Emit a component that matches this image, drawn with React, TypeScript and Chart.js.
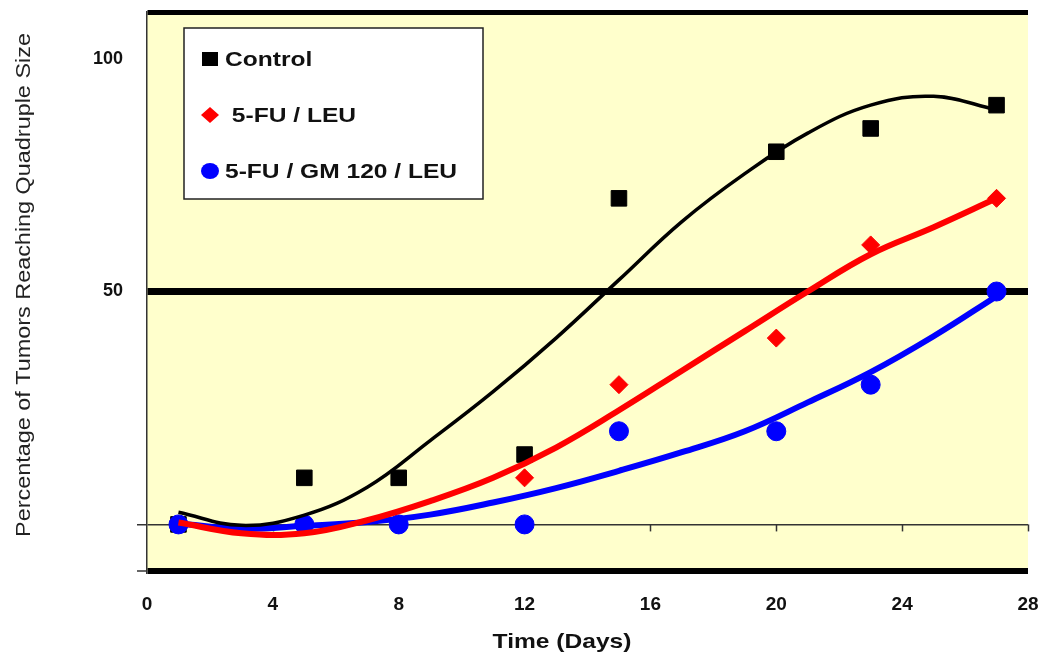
import React, { useEffect, useRef } from 'react';
import { Chart, registerables } from 'chart.js';

Chart.register(...registerables);

// ---- data ----
const days = [1, 5, 8, 12, 15, 20, 23, 27];
const controlValues = [0, 10, 10, 15, 70, 80, 85, 90];
const fuLeuValues = [0, 0, 0, 10, 30, 40, 60, 70];
const fuGmLeuValues = [0, 0, 0, 0, 20, 20, 30, 50];

// trend-line curves as drawn in the reference
const trendDays = [1, 3, 5, 7, 9, 11, 13, 15, 17, 19, 21, 23, 25, 27];
const controlTrend = [2.6, -0.2, 2, 8, 18, 28.5, 40, 52.5, 65, 75.3, 84, 90, 91.9, 89];
const fuLeuTrend = [0.4, -1.9, -1.9, 0.9, 5, 10, 16.5, 24.5, 33, 41.5, 50, 58, 63.8, 70];
const fuGmLeuTrend = [0.2, -0.9, -0.3, 0.5, 2.1, 4.7, 7.8, 11.5, 15.5, 20, 26.2, 32.7, 40.4, 49];

const seriesLabels = ['Control', ' 5-FU / LEU', '5-FU / GM 120 / LEU'];
const yTickValues = [-10, 0, 50, 100, 110];
const yLabelValues = [50, 100];
const xTitle = 'Time (Days)';
const yTitle = 'Percentage of Tumors Reaching Quadruple Size';

const FONT = '"Liberation Sans", Arial, Helvetica, sans-serif';
const STRETCH = 1.17;

const toXY = (xs: number[], ys: number[]) => xs.map((x, i) => ({ x, y: ys[i] }));

const backgroundPlugin = {
  id: 'plotBg',
  beforeDraw(chart: any) {
    const { ctx, chartArea } = chart;
    ctx.save();
    ctx.fillStyle = '#FFFFCC';
    ctx.fillRect(chartArea.left, chartArea.top, chartArea.right - chartArea.left, chartArea.bottom - chartArea.top);
    ctx.restore();
  },
};

const zeroTicksPlugin = {
  id: 'zeroTicks',
  beforeDatasetsDraw(chart: any) {
    const { ctx } = chart;
    const xs = chart.scales.x;
    const ys = chart.scales.y;
    const y0 = ys.getPixelForValue(0);
    ctx.save();
    ctx.strokeStyle = '#333';
    ctx.lineWidth = 1.5;
    xs.ticks.forEach((t: any) => {
      if (t.value <= xs.min) return;
      const px = Math.round(xs.getPixelForValue(t.value)) + 0.5;
      ctx.beginPath();
      ctx.moveTo(px, y0);
      ctx.lineTo(px, y0 + 7);
      ctx.stroke();
    });
    ctx.restore();
  },
};

const legendPlugin = {
  id: 'boxLegend',
  afterDatasetsDraw(chart: any) {
    const { ctx, chartArea } = chart;
    const bx = chartArea.left + 37;
    const by = chartArea.top + 16;
    const bw = 299;
    const bh = 171;
    ctx.save();
    ctx.fillStyle = '#ffffff';
    ctx.fillRect(bx, by, bw, bh);
    ctx.strokeStyle = '#222';
    ctx.lineWidth = 1.5;
    ctx.strokeRect(bx, by, bw, bh);
    const items = chart.data.datasets.filter((d: any) => d.label);
    items.forEach((ds: any, i: number) => {
      const cy = by + 31 + i * 56;
      const mx = bx + 26;
      ctx.fillStyle = ds.backgroundColor;
      if (ds.pointStyle === 'rect') {
        ctx.fillRect(mx - 8, cy - 7, 16, 14);
      } else if (ds.pointStyle === 'rectRot') {
        ctx.beginPath();
        ctx.moveTo(mx, cy - 8);
        ctx.lineTo(mx + 9, cy);
        ctx.lineTo(mx, cy + 8);
        ctx.lineTo(mx - 9, cy);
        ctx.closePath();
        ctx.fill();
      } else {
        ctx.beginPath();
        ctx.ellipse(mx, cy, 9, 8, 0, 0, Math.PI * 2);
        ctx.fill();
      }
      ctx.save();
      ctx.translate(bx + 41, cy);
      ctx.scale(STRETCH, 1);
      ctx.font = `bold 21px ${FONT}`;
      ctx.textBaseline = 'middle';
      ctx.textAlign = 'left';
      ctx.fillStyle = '#111';
      ctx.fillText(ds.label, 0, 1);
      ctx.restore();
    });
    ctx.restore();
  },
};

const titlesPlugin = {
  id: 'axisTitles',
  afterDraw(chart: any) {
    const { ctx, chartArea } = chart;
    ctx.save();
    ctx.fillStyle = '#111';
    ctx.textAlign = 'center';
    ctx.textBaseline = 'middle';
    // x title
    ctx.save();
    ctx.translate(chartArea.left + 415, chart.height - 17);
    ctx.scale(STRETCH, 1);
    ctx.font = `bold 21px ${FONT}`;
    ctx.fillText(xTitle, 0, 0);
    ctx.restore();
    // y title
    ctx.save();
    ctx.translate(24, chartArea.top + 273);
    ctx.rotate(-Math.PI / 2);
    ctx.scale(STRETCH, 1);
    ctx.font = `20px ${FONT}`;
    ctx.fillStyle = '#222';
    ctx.fillText(yTitle, 0, 0);
    ctx.restore();
    ctx.restore();
  },
};

const trendStyle = {
  showLine: true,
  pointRadius: 0,
  tension: 0.4,
  fill: false,
};

export default function App() {
  const canvasRef = useRef<HTMLCanvasElement | null>(null);

  useEffect(() => {
    document.body.style.margin = '0';
    const canvas = canvasRef.current;
    if (!canvas) return;

    const chart = new Chart(canvas, {
      type: 'scatter',
      data: {
        datasets: [
          { ...trendStyle, data: toXY(trendDays, controlTrend), borderColor: '#000000', borderWidth: 3.5, order: 0 },
          { ...trendStyle, data: toXY(trendDays, fuLeuTrend), borderColor: '#FF0000', borderWidth: 6, order: 1 },
          { ...trendStyle, data: toXY(trendDays, fuGmLeuTrend), borderColor: '#0000FF', borderWidth: 6, order: 2 },
          {
            label: seriesLabels[0],
            data: toXY(days, controlValues),
            pointStyle: 'rect',
            pointRadius: 11,
            backgroundColor: '#000000',
            borderColor: '#000000',
            borderWidth: 1,
            order: 5,
          },
          {
            label: seriesLabels[1],
            data: toXY(days, fuLeuValues),
            pointStyle: 'rectRot',
            pointRadius: 9,
            backgroundColor: '#FF0000',
            borderColor: '#FF0000',
            borderWidth: 1,
            order: 4,
          },
          {
            label: seriesLabels[2],
            data: toXY(days, fuGmLeuValues),
            pointStyle: 'circle',
            pointRadius: 9.5,
            backgroundColor: '#0000FF',
            borderColor: '#0000FF',
            borderWidth: 1,
            order: 3,
          },
        ],
      },
      options: {
        animation: false,
        responsive: false,
        maintainAspectRatio: false,
        layout: { padding: { top: 12, right: 18, left: 0, bottom: 0 } },
        plugins: {
          legend: { display: false },
          tooltip: { enabled: false },
          title: { display: false },
        },
        scales: {
          x: {
            type: 'linear',
            min: 0,
            max: 28,
            afterFit: (scale: any) => {
              scale.height = 88;
              scale.paddingLeft = 0;
              scale.paddingRight = 0;
            },
            ticks: {
              stepSize: 4,
              color: '#111',
              padding: 22,
              font: { family: FONT, size: 19, weight: 'bold' },
            },
            grid: { display: false, drawTicks: false },
            border: { display: false },
          },
          y: {
            min: -10,
            max: 110,
            afterFit: (scale: any) => {
              scale.width = 147;
              scale.paddingTop = 0;
              scale.paddingBottom = 0;
            },
            afterBuildTicks: (scale: any) => {
              scale.ticks = yTickValues.map((v) => ({ value: v }));
            },
            ticks: {
              autoSkip: false,
              color: '#111',
              padding: 14,
              font: { family: FONT, size: 18, weight: 'bold' },
              callback: (v: any) => (yLabelValues.includes(Number(v)) ? String(v) : ''),
            },
            grid: {
              drawTicks: true,
              tickLength: 10,
              lineWidth: (c: any) => {
                const v = c.tick ? c.tick.value : null;
                if (v === 50) return 7;
                if (v === -10) return 6;
                if (v === 110) return 5;
                if (v === 0) return 1.5;
                return 1;
              },
              color: (c: any) => {
                const v = c.tick ? c.tick.value : null;
                if (v === 0) return '#333';
                if (v === 100) return 'rgba(0,0,0,0)';
                return '#000';
              },
              tickWidth: 1.5,
              tickColor: (c: any) => {
                const v = c.tick ? c.tick.value : null;
                return v === 0 || v === -10 ? '#333' : 'rgba(0,0,0,0)';
              },
            },
            border: { display: true, color: '#333', width: 1.5 },
          },
        },
      },
      plugins: [backgroundPlugin, zeroTicksPlugin, legendPlugin, titlesPlugin],
    } as any);

    return () => {
      chart.destroy();
    };
  }, []);

  return (
    <div style={{ width: 1046, height: 659, background: '#ffffff' }}>
      <canvas ref={canvasRef} width={1046} height={659} style={{ display: 'block' }} />
    </div>
  );
}
